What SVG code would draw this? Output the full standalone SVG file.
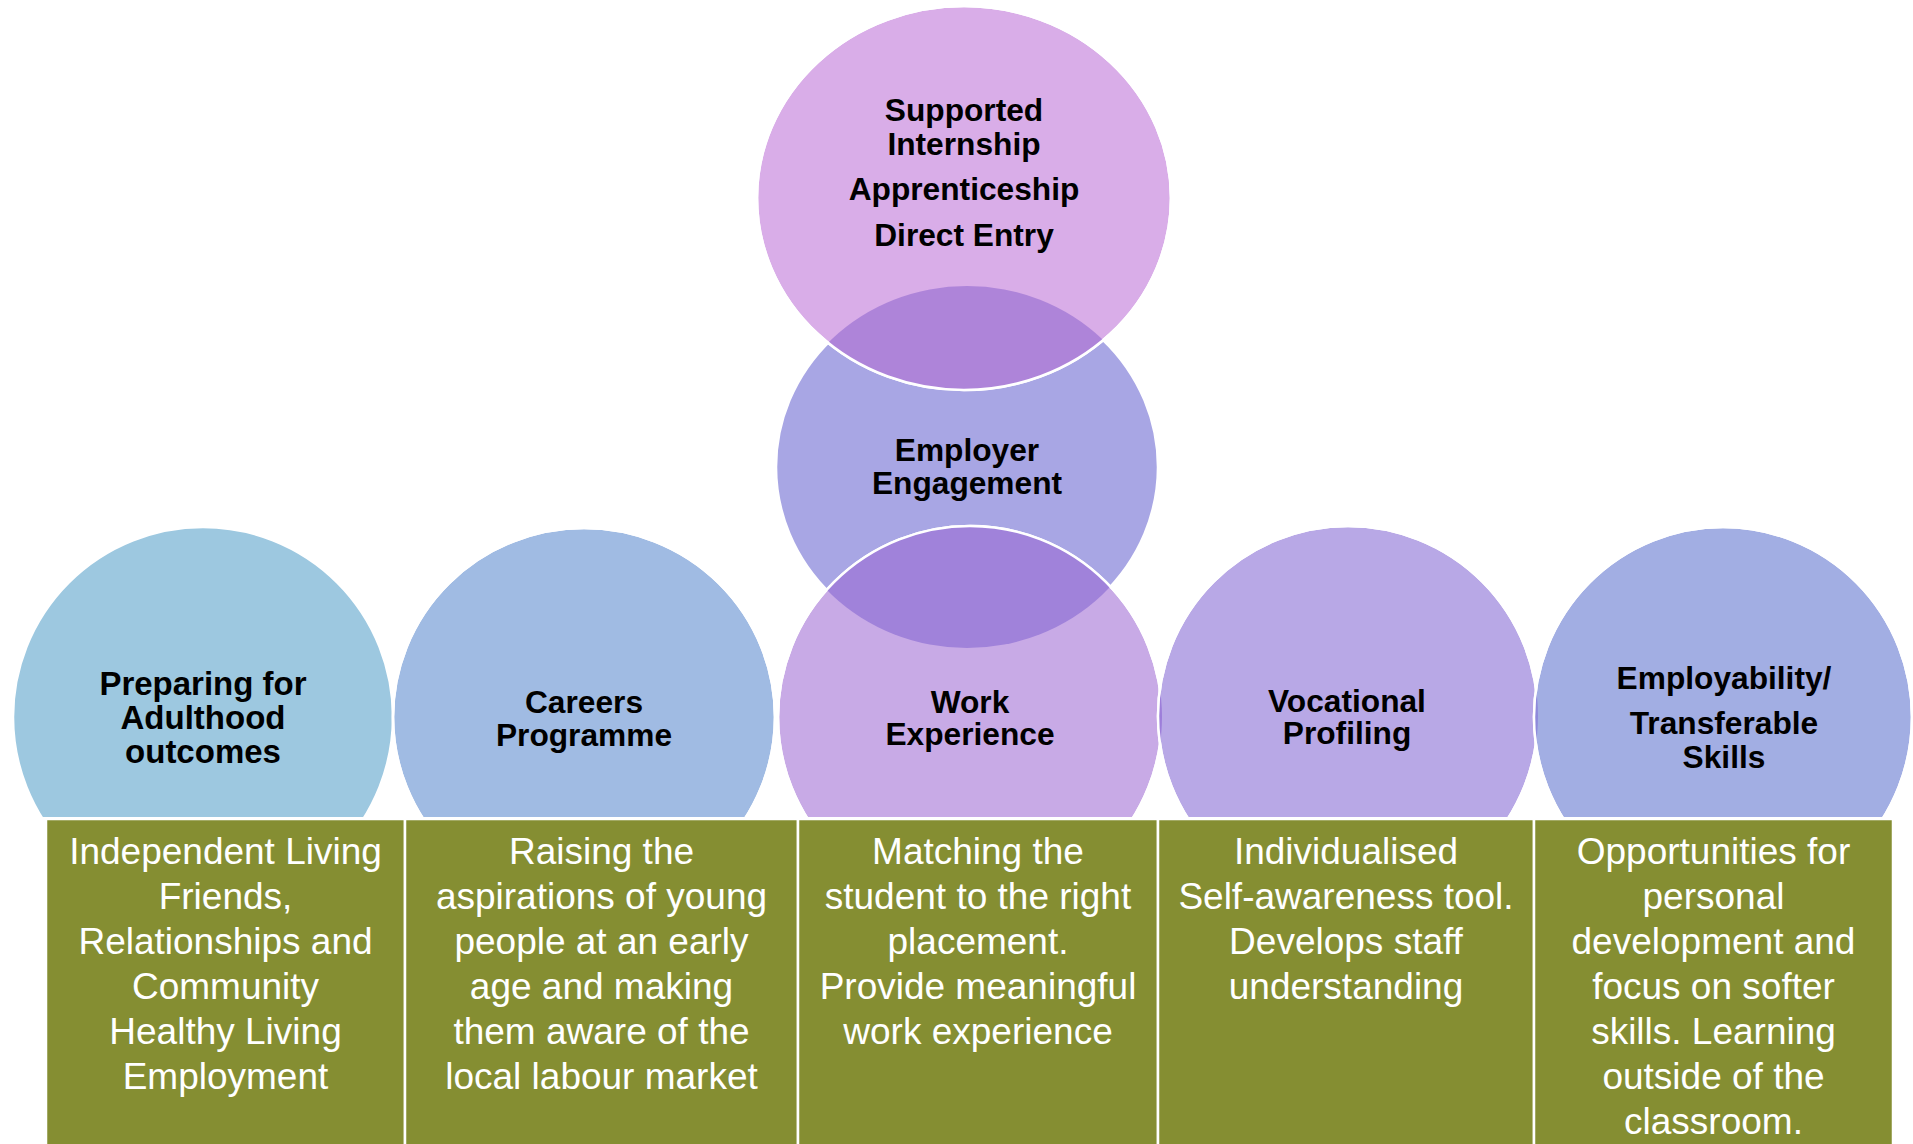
<svg xmlns="http://www.w3.org/2000/svg" xmlns:xlink="http://www.w3.org/1999/xlink" width="1913" height="1144" viewBox="0 0 1913 1144">
  <style>
    .ring { stroke: #ffffff; stroke-width: 2.5; }
    .edge { fill: none; stroke: #ffffff; stroke-width: 2.5; }
    .lbl { font-family: "Liberation Sans", Arial, sans-serif; font-weight: bold; font-size: 31.7px; text-anchor: middle; fill: #000000; }
    .lbl-lg { font-size: 33px; }
    .box { fill: #858E32; stroke: #ffffff; stroke-width: 2.5; }
    .desc { font-family: "Liberation Sans", Arial, sans-serif; font-size: 37px; text-anchor: middle; fill: #ffffff; }
  </style>
  <defs>
    <ellipse id="e-top" cx="964" cy="198" rx="207" ry="192"/>
    <ellipse id="e-emp" cx="967" cy="467" rx="191" ry="181"/>
    <ellipse id="e-work" cx="970" cy="717" rx="192" ry="191"/>
    <ellipse id="e-prep" cx="203" cy="717" rx="190" ry="190"/>
    <ellipse id="e-car" cx="584" cy="717" rx="191" ry="189"/>
    <ellipse id="e-voc" cx="1348" cy="716" rx="190" ry="190"/>
    <ellipse id="e-skill" cx="1723" cy="717" rx="189" ry="190"/>
    <clipPath id="c-top"><use xlink:href="#e-top"/></clipPath>
    <clipPath id="c-work"><use xlink:href="#e-work"/></clipPath>
    <clipPath id="c-car"><use xlink:href="#e-car"/></clipPath>
    <clipPath id="c-voc"><use xlink:href="#e-voc"/></clipPath>
    <clipPath id="c-skill"><use xlink:href="#e-skill"/></clipPath>
  </defs>

  <!-- central column -->
  <g id="employer-engagement">
    <use xlink:href="#e-emp" class="ring" fill="#A8A6E4"/>
    <text class="lbl" x="967" y="461">Employer</text>
    <text class="lbl" x="967" y="494">Engagement</text>
  </g>

  <g id="pathways">
    <use xlink:href="#e-top" class="ring" fill="#D9ADE8"/>
    <use xlink:href="#e-emp" clip-path="url(#c-top)" fill="#AE84D9"/>
    <use xlink:href="#e-top" class="edge"/>
    <text class="lbl" x="964" y="121">Supported</text>
    <text class="lbl" x="964" y="155">Internship</text>
    <text class="lbl" x="964" y="200">Apprenticeship</text>
    <text class="lbl" x="964" y="246">Direct Entry</text>
  </g>

  <!-- bottom row -->
  <g id="preparing-for-adulthood">
    <use xlink:href="#e-prep" class="ring" fill="#9DC8E0"/>
    <text class="lbl lbl-lg" x="203" y="695">Preparing for</text>
    <text class="lbl lbl-lg" x="203" y="729">Adulthood</text>
    <text class="lbl lbl-lg" x="203" y="763">outcomes</text>
  </g>

  <g id="careers-programme">
    <use xlink:href="#e-car" class="ring" fill="#A0BBE3"/>
    <use xlink:href="#e-prep" clip-path="url(#c-car)" fill="#6FA0D4"/>
    <use xlink:href="#e-car" class="edge"/>
    <text class="lbl" x="584" y="713">Careers</text>
    <text class="lbl" x="584" y="746">Programme</text>
  </g>

  <g id="work-experience">
    <use xlink:href="#e-work" class="ring" fill="#C8AAE6"/>
    <use xlink:href="#e-emp" clip-path="url(#c-work)" fill="#A082DA"/>
    <use xlink:href="#e-work" class="edge"/>
    <text class="lbl" x="970" y="713">Work</text>
    <text class="lbl" x="970" y="745">Experience</text>
  </g>

  <g id="vocational-profiling">
    <use xlink:href="#e-voc" class="ring" fill="#B8A8E6"/>
    <use xlink:href="#e-work" clip-path="url(#c-voc)" fill="#9D7EDA"/>
    <use xlink:href="#e-voc" class="edge"/>
    <text class="lbl" x="1347" y="712">Vocational</text>
    <text class="lbl" x="1347" y="744">Profiling</text>
  </g>

  <g id="employability-skills">
    <use xlink:href="#e-skill" class="ring" fill="#A2AEE3"/>
    <use xlink:href="#e-voc" clip-path="url(#c-skill)" fill="#8E8ADB"/>
    <use xlink:href="#e-skill" class="edge"/>
    <text class="lbl" x="1724" y="689">Employability/</text>
    <text class="lbl" x="1724" y="734">Transferable</text>
    <text class="lbl" x="1724" y="768">Skills</text>
  </g>

  <!-- circles are cut off flat above the description panels -->
  <rect x="0" y="817" width="1913" height="327" fill="#ffffff"/>

  <g id="desc-adulthood">
    <rect class="box" x="46" y="819" width="359" height="330"/>
    <text class="desc" x="225.5" y="864">Independent Living</text>
    <text class="desc" x="225.5" y="909">Friends,</text>
    <text class="desc" x="225.5" y="954">Relationships and</text>
    <text class="desc" x="225.5" y="999">Community</text>
    <text class="desc" x="225.5" y="1044">Healthy Living</text>
    <text class="desc" x="225.5" y="1089">Employment</text>
  </g>

  <g id="desc-careers">
    <rect class="box" x="405" y="819" width="393" height="330"/>
    <text class="desc" x="601.5" y="864">Raising the</text>
    <text class="desc" x="601.5" y="909">aspirations of young</text>
    <text class="desc" x="601.5" y="954">people at an early</text>
    <text class="desc" x="601.5" y="999">age and making</text>
    <text class="desc" x="601.5" y="1044">them aware of the</text>
    <text class="desc" x="601.5" y="1089">local labour market</text>
  </g>

  <g id="desc-work">
    <rect class="box" x="798" y="819" width="360" height="330"/>
    <text class="desc" x="978" y="864">Matching the</text>
    <text class="desc" x="978" y="909">student to the right</text>
    <text class="desc" x="978" y="954">placement.</text>
    <text class="desc" x="978" y="999">Provide meaningful</text>
    <text class="desc" x="978" y="1044">work experience</text>
  </g>

  <g id="desc-vocational">
    <rect class="box" x="1158" y="819" width="376" height="330"/>
    <text class="desc" x="1346" y="864">Individualised</text>
    <text class="desc" x="1346" y="909">Self-awareness tool.</text>
    <text class="desc" x="1346" y="954">Develops staff</text>
    <text class="desc" x="1346" y="999">understanding</text>
  </g>

  <g id="desc-skills">
    <rect class="box" x="1534" y="819" width="359" height="330"/>
    <text class="desc" x="1713.5" y="864">Opportunities for</text>
    <text class="desc" x="1713.5" y="909">personal</text>
    <text class="desc" x="1713.5" y="954">development and</text>
    <text class="desc" x="1713.5" y="999">focus on softer</text>
    <text class="desc" x="1713.5" y="1044">skills. Learning</text>
    <text class="desc" x="1713.5" y="1089">outside of the</text>
    <text class="desc" x="1713.5" y="1134">classroom.</text>
  </g>

  <!-- no connectors in this layout -->
  <g id="connectors"/>
</svg>
